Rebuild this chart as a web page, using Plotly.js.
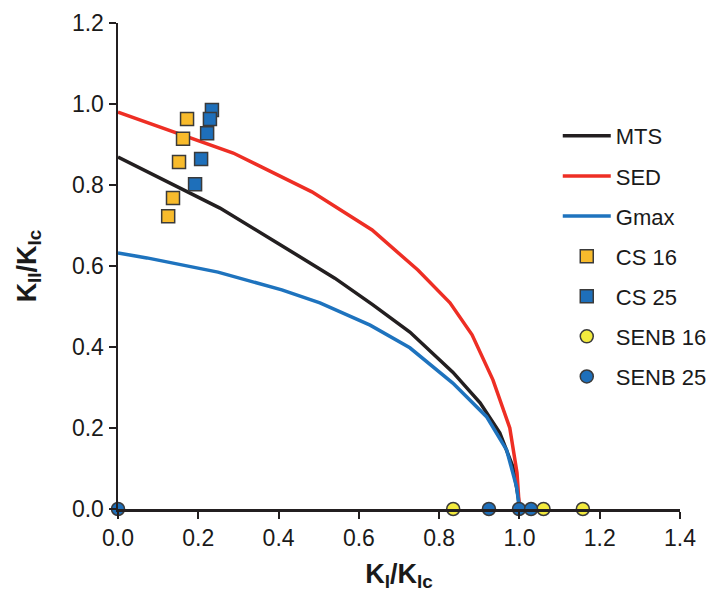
<!DOCTYPE html>
<html>
<head>
<meta charset="utf-8">
<script src="https://cdn.plot.ly/plotly-3.0.1.min.js"></script>
<style>html,body{margin:0;padding:0;background:#fff}#chart{width:716px;height:593px}</style>
</head>
<body>
<div id="chart"></div>
<script>
// Curves
const mtsX = [0, 0.254, 0.40, 0.540, 0.635, 0.727, 0.834, 0.902, 0.951, 0.984, 0.997, 1.0];
const mtsY = [0.869, 0.743, 0.655, 0.570, 0.504, 0.437, 0.338, 0.262, 0.188, 0.104, 0.03, 0];
const sedX = [0, 0.287, 0.483, 0.633, 0.747, 0.827, 0.882, 0.934, 0.976, 0.994, 0.998, 1.0];
const sedY = [0.980, 0.879, 0.783, 0.689, 0.590, 0.509, 0.430, 0.319, 0.200, 0.089, 0.03, 0];
const gmaxX = [0, 0.072, 0.249, 0.408, 0.503, 0.628, 0.727, 0.834, 0.918, 0.968, 0.993, 1.0];
const gmaxY = [0.632, 0.620, 0.585, 0.541, 0.509, 0.454, 0.398, 0.311, 0.228, 0.146, 0.054, 0];
// Experimental points
const cs16X = [0.172, 0.162, 0.152, 0.137, 0.125];
const cs16Y = [0.963, 0.914, 0.857, 0.768, 0.723];
const cs25X = [0.234, 0.229, 0.222, 0.207, 0.192];
const cs25Y = [0.985, 0.963, 0.928, 0.864, 0.802];
const senb16X = [0.835, 1.06, 1.158];
const senb16Y = [0, 0, 0];
const senb25X = [0.0, 0.924, 0.999, 1.029];
const senb25Y = [0, 0, 0, 0];

const names = ['MTS', 'SED', 'Gmax', 'CS 16', 'CS 25', 'SENB 16', 'SENB 25'];
const lineColors = ['#231F20', '#EE2E24', '#1E73BE'];
const mk = {line: {color: '#3a3a3a', width: 1.5}, size: 13};

const traces = [
  {x: mtsX, y: mtsY, name: names[0], mode: 'lines', line: {color: lineColors[0], width: 3.5}},
  {x: sedX, y: sedY, name: names[1], mode: 'lines', line: {color: lineColors[1], width: 3.5}},
  {x: gmaxX, y: gmaxY, name: names[2], mode: 'lines', line: {color: lineColors[2], width: 3.5}},
  {x: cs16X, y: cs16Y, name: names[3], mode: 'markers', marker: Object.assign({symbol: 'square', color: '#F8BB2C'}, mk)},
  {x: cs25X, y: cs25Y, name: names[4], mode: 'markers', marker: Object.assign({symbol: 'square', color: '#1E6FBA'}, mk)},
  {x: senb16X, y: senb16Y, name: names[5], mode: 'markers', marker: Object.assign({symbol: 'circle', color: '#F2EA3E'}, mk)},
  {x: senb25X, y: senb25Y, name: names[6], mode: 'markers', marker: Object.assign({symbol: 'circle', color: '#1E6FBA'}, mk)}
].map((t, i) => Object.assign(t, {type: 'scatter', cliponaxis: false, legendgroup: 'g' + i}));

const layout = {
  width: 716, height: 593,
  margin: {l: 118, r: 36, t: 23, b: 84, autoexpand: false},
  paper_bgcolor: '#fff', plot_bgcolor: '#fff',
  font: {family: 'Liberation Sans, Arial, sans-serif', size: 23, color: '#1a1a1a'},
  showlegend: true,
  legend: {xref: 'container', yref: 'container', x: 0.779, y: 0.806, xanchor: 'left', yanchor: 'top',
           tracegroupgap: 8.5, itemwidth: 48,
           traceorder: 'grouped', font: {size: 22, color: '#1a1a1a'}, bgcolor: 'rgba(0,0,0,0)'},
  xaxis: {range: [0, 1.4], dtick: 0.2, tick0: 0, tickformat: '.1f', showgrid: false, zeroline: false,
          showline: true, linecolor: '#231F20', linewidth: 2.5, ticks: 'outside', ticklen: 7, tickwidth: 2,
          tickcolor: '#231F20',
          title: {text: '<b>K<sub>I</sub>/K<sub>Ic</sub></b>', font: {size: 27}, standoff: 14}},
  yaxis: {range: [0, 1.2], dtick: 0.2, tick0: 0, tickformat: '.1f', showgrid: false, zeroline: false,
          showline: true, linecolor: '#231F20', linewidth: 2.5, ticks: 'outside', ticklen: 7, tickwidth: 2,
          tickcolor: '#231F20',
          title: {text: '<b>K<sub>II</sub>/K<sub>Ic</sub></b>', font: {size: 27}, standoff: 28}}
};

Plotly.newPlot('chart', traces, layout, {displayModeBar: false, staticPlot: true});
</script>
</body>
</html>
